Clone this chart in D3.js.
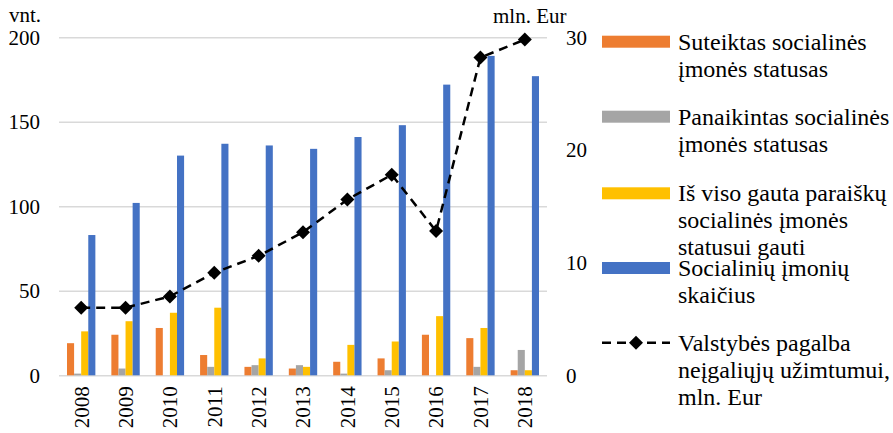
<!DOCTYPE html>
<html>
<head>
<meta charset="utf-8">
<script src="https://cdn.jsdelivr.net/npm/d3@7"></script>
<style>
  body { margin: 0; background: #fff; }
  svg text { font-family: "Liberation Serif", "Times New Roman", serif; }
  .axis .domain { display: none; }
  .grid line { stroke: #d9d9d9; stroke-width: 1.5; }
  .grid .domain { display: none; }
</style>
</head>
<body>
<div id="chart"></div>
<script>
// data
var years = ['2008', '2009', '2010', '2011', '2012', '2013', '2014', '2015', '2016', '2017', '2018'];
var granted = [19, 24, 28, 12, 5, 4, 8, 10, 24, 22, 3];
var revoked = [1, 4, 0, 5, 6, 6, 1, 3, 0, 5, 15];
var applications = [26, 32, 37, 40, 10, 5, 18, 20, 35, 28, 3];
var companies = [83, 102, 130, 137, 136, 134, 141, 148, 172, 189, 177];
var support = [6.0, 6.0, 7.0, 9.1, 10.6, 12.7, 15.6, 17.8, 12.8, 28.2, 29.8];

var leftTicks = [0, 50, 100, 150, 200];
var rightTicks = [0, 10, 20, 30];

var keys = ['granted', 'revoked', 'applications', 'companies'];
var colors = ['#ED7D31', '#A5A5A5', '#FFC000', '#4472C4'];
var legendLabels = [
  ['Suteiktas socialinės', 'įmonės statusas'],
  ['Panaikintas socialinės', 'įmonės statusas'],
  ['Iš viso gauta paraiškų', 'socialinės įmonės', 'statusui gauti'],
  ['Socialinių įmonių', 'skaičius'],
  ['Valstybės pagalba', 'neįgaliųjų užimtumui,', 'mln. Eur']
];

var data = years.map(function(y, i) {
  return {
    year: y,
    granted: granted[i],
    revoked: revoked[i],
    applications: applications[i],
    companies: companies[i],
    support: support[i]
  };
});

var width = 893, height = 433;
var plotLeft = 59, plotRight = 547, plotTop = 37.3, plotBottom = 375.3;
var serif = '"Liberation Serif", "Times New Roman", serif';

var svg = d3.select('#chart').append('svg')
  .attr('width', width)
  .attr('height', height)
  .attr('font-family', serif);

// scales
var x0 = d3.scaleBand().domain(years).range([plotLeft, plotRight]);
var x1 = d3.scaleBand().domain(keys).range([8, x0.bandwidth() - 8]);
var yL = d3.scaleLinear().domain([0, 200]).range([plotBottom, plotTop]);
var yR = d3.scaleLinear().domain([0, 30]).range([plotBottom, plotTop]);
var color = d3.scaleOrdinal().domain(keys).range(colors);

// gridlines
svg.append('g')
  .attr('class', 'grid')
  .attr('transform', 'translate(' + plotLeft + ',0)')
  .call(d3.axisLeft(yL).tickValues(leftTicks).tickSize(-(plotRight - plotLeft)).tickFormat(''));

// left axis
svg.append('g')
  .attr('class', 'axis')
  .attr('transform', 'translate(' + plotLeft + ',0)')
  .call(d3.axisLeft(yL).tickValues(leftTicks).tickSize(0).tickPadding(19))
  .attr('font-family', serif)
  .attr('font-size', 21)
  .selectAll('text')
  .attr('fill', '#000');

// right axis
svg.append('g')
  .attr('class', 'axis')
  .attr('transform', 'translate(' + plotRight + ',0)')
  .call(d3.axisRight(yR).tickValues(rightTicks).tickSize(0).tickPadding(19))
  .attr('font-family', serif)
  .attr('font-size', 21)
  .selectAll('text')
  .attr('fill', '#000');

// bottom axis
svg.append('g')
  .attr('class', 'axis')
  .attr('transform', 'translate(0,' + plotBottom + ')')
  .call(d3.axisBottom(x0).tickSize(0))
  .attr('font-family', serif)
  .attr('font-size', 21)
  .selectAll('text')
  .attr('fill', '#000')
  .attr('text-anchor', 'end')
  .attr('transform', 'rotate(-90)')
  .attr('x', -11)
  .attr('y', 0)
  .attr('dy', '0.35em');

// unit labels
svg.append('text')
  .attr('x', 9).attr('y', 22)
  .attr('font-size', 21)
  .text('vnt.');

svg.append('text')
  .attr('x', 493).attr('y', 23)
  .attr('font-size', 21)
  .text('mln. Eur');

// bars
svg.append('g')
  .selectAll('g')
  .data(data)
  .enter().append('g')
  .attr('transform', function(d) { return 'translate(' + x0(d.year) + ',0)'; })
  .selectAll('rect')
  .data(function(d) {
    return keys.map(function(k) { return { key: k, value: d[k] }; });
  })
  .enter().append('rect')
  .attr('x', function(d) { return x1(d.key); })
  .attr('y', function(d) { return yL(d.value); })
  .attr('width', x1.bandwidth())
  .attr('height', function(d) { return plotBottom - yL(d.value); })
  .attr('fill', function(d) { return color(d.key); });

// line
var line = d3.line()
  .x(function(d) { return x0(d.year) + x0.bandwidth() / 2; })
  .y(function(d) { return yR(d.support); });

svg.append('path')
  .datum(data)
  .attr('d', line)
  .attr('fill', 'none')
  .attr('stroke', '#000')
  .attr('stroke-width', 2.5)
  .attr('stroke-dasharray', '9,6');

var diamond = d3.symbol().type(d3.symbolSquare).size(98);

svg.append('g')
  .selectAll('path')
  .data(data)
  .enter().append('path')
  .attr('d', diamond)
  .attr('transform', function(d) {
    return 'translate(' + (x0(d.year) + x0.bandwidth() / 2) + ',' + yR(d.support) + ') rotate(45)';
  })
  .attr('fill', '#000');

// legend
var legendY = [41.7, 116.7, 193.3, 268, 342.7];
var legend = svg.append('g')
  .selectAll('g')
  .data(legendLabels)
  .enter().append('g')
  .attr('transform', function(d, i) { return 'translate(602,' + legendY[i] + ')'; });

legend.filter(function(d, i) { return i < 4; })
  .append('rect')
  .attr('x', 0)
  .attr('y', -6)
  .attr('width', 68)
  .attr('height', 12)
  .attr('fill', function(d, i) { return colors[i]; });

var lineLegend = legend.filter(function(d, i) { return i === 4; });
lineLegend.append('line')
  .attr('x1', 0).attr('x2', 68)
  .attr('y1', 0).attr('y2', 0)
  .attr('stroke', '#000')
  .attr('stroke-width', 2.5)
  .attr('stroke-dasharray', '9,6');
lineLegend.append('path')
  .attr('d', diamond)
  .attr('transform', 'translate(34,0) rotate(45)')
  .attr('fill', '#000');

legend.append('text')
  .attr('font-size', 24)
  .selectAll('tspan')
  .data(function(d) { return d; })
  .enter().append('tspan')
  .attr('x', 76)
  .attr('y', function(d, i) { return 8 + i * 27; })
  .text(function(d) { return d; });
</script>
</body>
</html>
